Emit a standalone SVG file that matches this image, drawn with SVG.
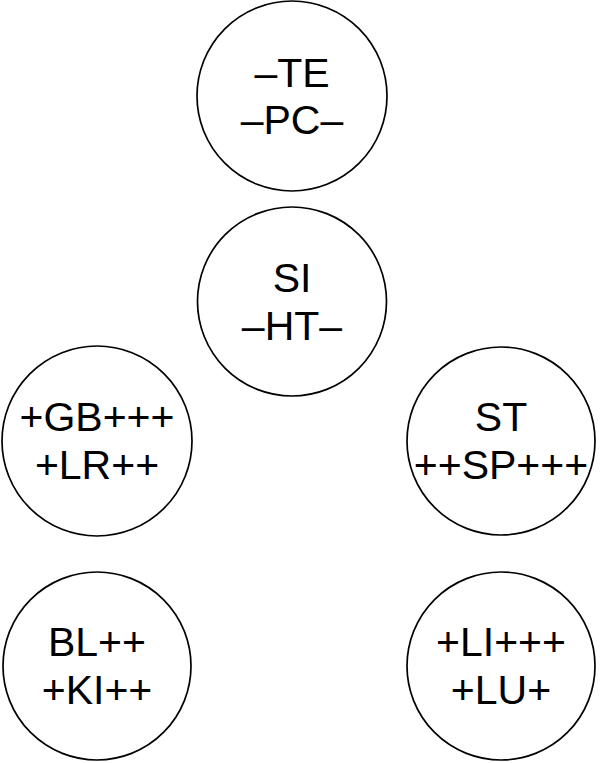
<svg xmlns="http://www.w3.org/2000/svg" width="600" height="763" viewBox="0 0 600 763">
<style>
.node circle{fill:#fff;stroke:#000;stroke-width:1.7}
.node text{font-family:"Liberation Sans",Arial,sans-serif;font-size:41px;fill:#000;text-anchor:middle}
</style>
<rect width="600" height="763" fill="#fff"/>
<g id="connectors"></g>
<g id="n1" class="node"><circle cx="292" cy="96" r="95"/><text x="292" y="86.5">–TE</text><text x="292" y="134">–PC–</text></g>
<g id="n2" class="node"><circle cx="292" cy="301.5" r="94.5"/><text x="292" y="292">SI</text><text x="292" y="339.5">–HT–</text></g>
<g id="n3" class="node"><circle cx="97" cy="441" r="95"/><text x="97" y="431">+GB+++</text><text x="97" y="479">+LR++</text></g>
<g id="n4" class="node"><circle cx="501" cy="441" r="94"/><text x="501" y="431">ST</text><text x="501" y="479">++SP+++</text></g>
<g id="n5" class="node"><circle cx="97" cy="666" r="94"/><text x="97" y="656">BL++</text><text x="97" y="704">+KI++</text></g>
<g id="n6" class="node"><circle cx="501" cy="666" r="94"/><text x="501" y="656">+LI+++</text><text x="501" y="704">+LU+</text></g>
</svg>
